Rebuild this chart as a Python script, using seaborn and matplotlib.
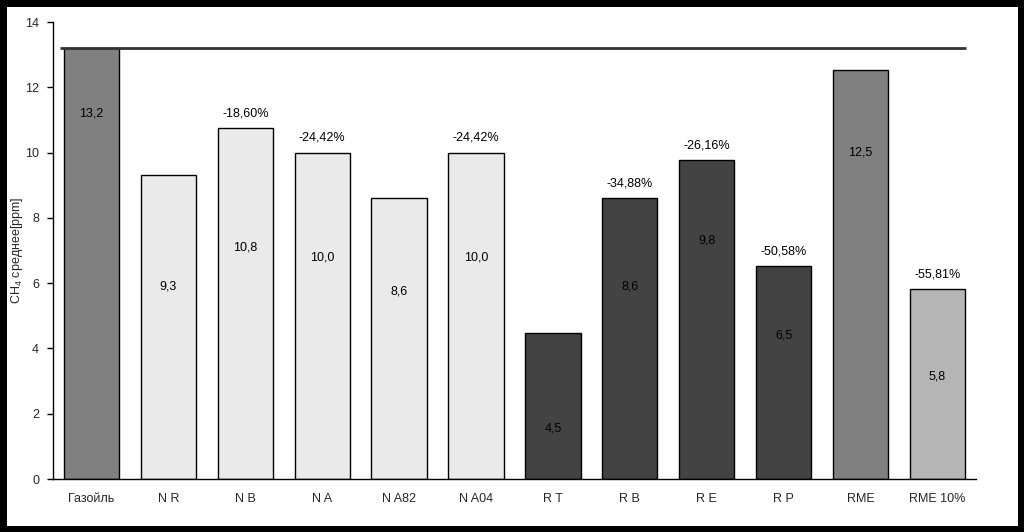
import pandas as pd
import seaborn as sns
import matplotlib.pyplot as plt
import numpy as np

# Данные
categories = ["Газойль", "N R", "N B", "N A", "N A82", "N A04",
              "R T", "R B", "R E", "R P", "RME", "RME 10%"]
values = [13.2, 9.3, 10.75, 10.0, 8.6, 10.0, 4.47, 8.6, 9.77, 6.53, 12.53, 5.83]
value_labels = ["13,2", "9,3", "10,8", "10,0", "8,6", "10,0",
                "4,5", "8,6", "9,8", "6,5", "12,5", "5,8"]
pct_labels = ["", "", "-18,60%", "-24,42%", "", "-24,42%",
              "", "-34,88%", "-26,16%", "-50,58%", "", "-55,81%"]
groups = ["base", "N", "N", "N", "N", "N", "R", "R", "R", "R", "RME", "RME10"]

# высота подписей внутри столбцов (как в оригинале)
label_y = [11.2, 5.9, 7.1, 6.8, 5.75, 6.8, 1.55, 5.9, 7.3, 4.4, 10.0, 3.15]

colors = {"base": "#808080", "N": "#EAEAEA", "R": "#434343",
          "RME": "#808080", "RME10": "#B5B5B5"}

df = pd.DataFrame({"cat": categories, "val": values, "grp": groups})

sns.set_style("white")
plt.rcParams["font.family"] = ["Liberation Sans", "DejaVu Sans"]
plt.rcParams["mathtext.fontset"] = "custom"
plt.rcParams["mathtext.rm"] = "Liberation Sans"

fig = plt.figure(figsize=(10.24, 5.32), dpi=100)
fig.patch.set_facecolor("white")
fig.patch.set_edgecolor("black")
fig.patch.set_linewidth(8)
ax = fig.add_axes([0.0518, 0.0996, 0.9012, 0.859])

sns.barplot(data=df, x="cat", y="val", hue="cat",
            palette=[colors[g] for g in groups], legend=False,
            width=0.72, edgecolor="black", linewidth=1.0, saturation=1, ax=ax)

# линия уровня газойля
ax.hlines(values[0], -0.41, 11.37, color="#333333", linewidth=2.0, zorder=5)

for i, (v, lab, pct, ly) in enumerate(zip(values, value_labels, pct_labels, label_y)):
    ax.text(i, ly, lab, ha="center", va="center", fontsize=9, color="black")
    if pct:
        ax.text(i, v + 0.45, pct, ha="center", va="center", fontsize=9, color="black")

ax.set_ylim(0, 14)
ax.set_xlim(-0.5, 11.5)
ax.set_yticks(np.arange(0, 15, 2))
ax.set_xlabel("")
ax.set_ylabel("CH$_4$ среднее[ppm]", fontsize=9)
ax.yaxis.set_label_coords(-0.0303, 0.5)

ax.set_xticks(np.arange(-0.5, 12, 1), minor=True)
ax.tick_params(axis="x", which="major", length=0, labelsize=9, pad=10)
ax.tick_params(axis="x", which="minor", length=4, width=1, color="black", direction="out")
ax.tick_params(axis="y", length=4, width=1, color="black", direction="out",
               labelsize=9, left=True, pad=6)

for s in ["top", "right"]:
    ax.spines[s].set_visible(False)
for s in ["left", "bottom"]:
    ax.spines[s].set_color("black")
    ax.spines[s].set_linewidth(1)

fig.savefig("out.png", dpi=100)
